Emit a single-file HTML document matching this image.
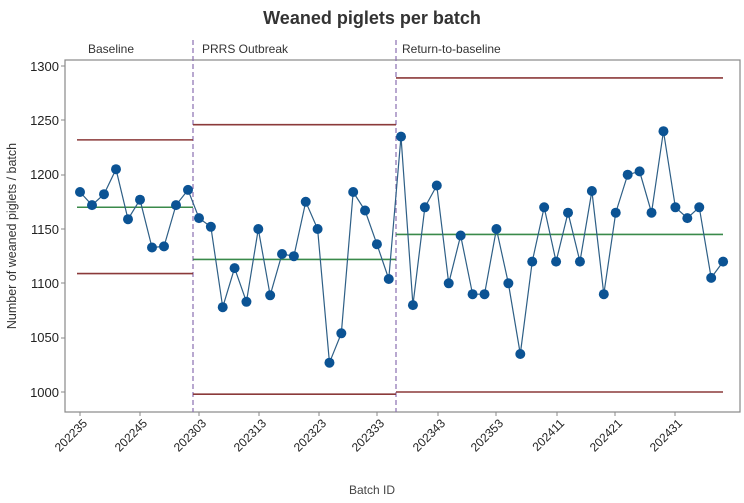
<!DOCTYPE html>
<html><head><meta charset="utf-8"><style>
body{margin:0;background:#fff;}
svg{display:block;font-family:"Liberation Sans","DejaVu Sans",sans-serif;}
</style></head><body>
<svg id="s" width="744" height="503" viewBox="0 0 744 503">
<rect width="744" height="503" fill="#fff"/>
<text x="372" y="24" text-anchor="middle" font-size="18" font-weight="bold" fill="#333">Weaned piglets per batch</text>
<rect x="65" y="60" width="675" height="352" fill="none" stroke="#888" stroke-width="1.2"/>
<g font-size="13" fill="#222" text-anchor="end">
<text x="59" y="71">1300</text><text x="59" y="125">1250</text><text x="59" y="179">1200</text>
<text x="59" y="234">1150</text><text x="59" y="288">1100</text><text x="59" y="342">1050</text><text x="59" y="397">1000</text>
</g>
<g stroke="#888"><line x1="61" y1="66" x2="65" y2="66"/><line x1="61" y1="120" x2="65" y2="120"/><line x1="61" y1="175" x2="65" y2="175"/><line x1="61" y1="229" x2="65" y2="229"/><line x1="61" y1="283" x2="65" y2="283"/><line x1="61" y1="338" x2="65" y2="338"/><line x1="61" y1="392" x2="65" y2="392"/></g>
<text transform="translate(16,236) rotate(-90)" text-anchor="middle" font-size="12.5" fill="#333">Number of weaned piglets / batch</text>
<g font-size="12" fill="#333"><text x="88" y="53">Baseline</text><text x="202" y="53">PRRS Outbreak</text><text x="402" y="53">Return-to-baseline</text></g>
<g stroke="#8a6fb0" stroke-dasharray="5,3" stroke-width="1.2"><line x1="193" y1="40" x2="193" y2="412"/><line x1="396" y1="40" x2="396" y2="412"/></g>
<g id="lims" stroke-width="1.6"></g>
<polyline id="pl" fill="none" stroke="#2e5f86" stroke-width="1.2"/>
<g id="pts" fill="#0b5394"></g>
<g stroke="#888" id="xt"></g>
<g font-size="12" fill="#222" text-anchor="end">
<text transform="translate(88,424) rotate(-45)">202235</text>
<text transform="translate(148,424) rotate(-45)">202245</text>
<text transform="translate(207,424) rotate(-45)">202303</text>
<text transform="translate(267,424) rotate(-45)">202313</text>
<text transform="translate(327,424) rotate(-45)">202323</text>
<text transform="translate(385,424) rotate(-45)">202333</text>
<text transform="translate(446,424) rotate(-45)">202343</text>
<text transform="translate(504,424) rotate(-45)">202353</text>
<text transform="translate(565,424) rotate(-45)">202411</text>
<text transform="translate(623,424) rotate(-45)">202421</text>
<text transform="translate(683,424) rotate(-45)">202431</text>
</g>
<text x="372" y="494" text-anchor="middle" font-size="12" fill="#444">Batch ID</text>
</svg>
<script>
var ns="http://www.w3.org/2000/svg";
function Y(v){return 392-(v-1000)*1.0867;}
function el(p,t,a){var e=document.createElementNS(ns,t);for(var k in a)e.setAttribute(k,a[k]);document.getElementById(p).appendChild(e);}
var b=[1184,1172,1182,1205,1159,1177,1133,1134,1172,1186];
var o=[1160,1152,1078,1114,1083,1150,1089,1127,1125,1175,1150,1027,1054,1184,1167,1136,1104];
var r=[1235,1080,1170,1190,1100,1144,1090,1090,1150,1100,1035,1120,1170,1120,1165,1120,1185,1090,1165,1200,1203,1165,1240,1170,1160,1170,1105,1120];
var P=[],i;
for(i=0;i<b.length;i++)P.push([80+i*12,b[i]]);
for(i=0;i<o.length;i++)P.push([199+i*11.86,o[i]]);
for(i=0;i<r.length;i++)P.push([401+i*11.93,r[i]]);
document.getElementById("pl").setAttribute("points",P.map(function(p){return p[0]+","+Y(p[1]).toFixed(1)}).join(" "));
P.forEach(function(p){el("pts","circle",{cx:p[0],cy:Y(p[1]).toFixed(1),r:5});});
var L=[[77,193,1232,1109,1170],[193,396,1246,998,1122],[396,723,1289,1000,1145]];
L.forEach(function(l){
el("lims","line",{x1:l[0],x2:l[1],y1:Y(l[2]),y2:Y(l[2]),stroke:"#8b3a3a"});
el("lims","line",{x1:l[0],x2:l[1],y1:Y(l[3]),y2:Y(l[3]),stroke:"#8b3a3a"});
el("lims","line",{x1:l[0],x2:l[1],y1:Y(l[4]),y2:Y(l[4]),stroke:"#3a8a4a"});});
[80,140,199,259,319,377,438,496,557,615,675].forEach(function(x){el("xt","line",{x1:x,x2:x,y1:412,y2:416});});
</script>
</body></html>
